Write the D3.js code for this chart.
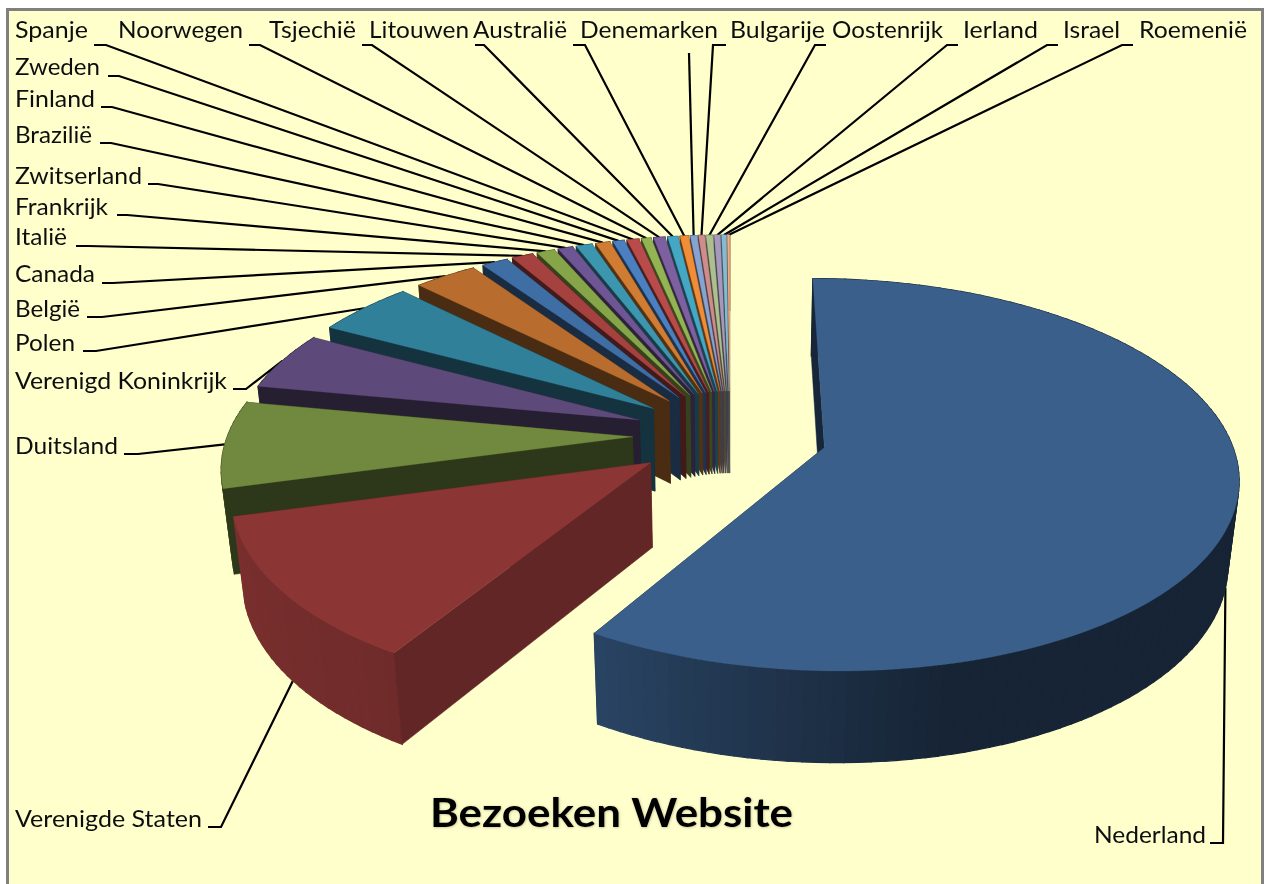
<!DOCTYPE html>
<html>
<head>
<meta charset="utf-8">
<script src="https://cdn.jsdelivr.net/npm/d3@7"></script>
<style>
  html, body { margin: 0; padding: 0; background: #fff; }
  text { font-family: Lato, "Open Sans", sans-serif; fill: #111; }
</style>
</head>
<body>
<svg id="chart" width="1265" height="884"></svg>
<script>
// data
const countries = ["Nederland", "Verenigde Staten", "Duitsland", "Verenigd Koninkrijk", "Polen", "België",
  "Canada", "Italië", "Frankrijk", "Zwitserland", "Brazilië", "Finland", "Zweden", "Spanje", "Noorwegen",
  "Tsjechië", "Litouwen", "Australië", "Denemarken", "Bulgarije", "Oostenrijk", "Ierland", "Israel", "Roemenië"];
const visits = [2110, 430, 260, 175, 165, 105, 44, 36, 30, 25, 27, 24, 19, 20, 16, 19, 17, 14, 11, 10, 11, 10, 8, 4];
const chartTitle = "Bezoeken Website";

const sliceColors = ["#3a5f8b", "#8b3635", "#71893f", "#5e4a7a", "#31809a", "#b86d2e",
  "#3f6ea5", "#a5423f", "#86a548", "#6e5593", "#3d96b0", "#d07c32",
  "#4a80c0", "#b94c4a", "#93b452", "#7c60a0", "#44a8c5", "#f18c37",
  "#87a3cf", "#cd8d8c", "#abc08e", "#a699bc", "#85bbd0", "#f4ae81"];

// label layout, same order as countries: text start, text end, baseline, stub start, stub end, stub y
const labelLayout = [
  [1094, 1206, 843, 1210, 1223, 843],
  [15, 202, 827, 208, 221, 827],
  [15, 118, 454, 124, 138, 454],
  [15, 227, 389, 233, 246, 389],
  [15, 75, 351, 83, 96, 351],
  [15, 80, 317, 87, 102, 317],
  [15, 95, 282, 102, 113, 283],
  [15, 67, 245, 76, 88, 246],
  [15, 108, 215, 117, 127, 215],
  [15, 142, 184, 148, 158, 184],
  [15, 92, 143, 100, 111, 143],
  [15, 95, 107, 101, 112, 107],
  [15, 100, 75, 108, 119, 76],
  [15, 88, 38, 94, 106, 45],
  [118, 243, 38, 249, 260, 45],
  [269, 356, 38, 362, 372, 45],
  [369, 469, 38, 475, 484, 45],
  [473, 567, 38, 573, 585, 45],
  [580, 718, 38, 689, 689, 53],
  [730, 825, 38, 726, 713, 45],
  [832, 943, 38, 826, 815, 45],
  [963, 1038, 38, 958, 947, 45],
  [1063, 1120, 38, 1058, 1047, 45],
  [1139, 1247, 38, 1133, 1122, 45]
];

// the perspective of the 3D pie
const cx = 730, cy = 435, kx = 405, ky = 188.9, persp = 0.138, depth = 85.5, depthPersp = 0.022;
const explode = 0.24;

function project(X, Y, Z) {
  const w = 1 - persp * Y + depthPersp * Z;
  return [cx + kx * X / w, cy + (ky * Y + depth * Z) / w];
}

const pie = d3.pie().sort(null);
const arcs = pie(visits);

const svg = d3.select("#chart");
const line = d3.line();

const defs = svg.append("defs");
defs.append("filter").attr("id", "soft").append("feGaussianBlur").attr("stdDeviation", 0.35);
const glow = defs.append("filter").attr("id", "titleShadow")
  .attr("x", "-5%").attr("y", "-20%").attr("width", "110%").attr("height", "140%");
glow.append("feDropShadow").attr("dx", 0.5).attr("dy", 0.5).attr("stdDeviation", 1)
  .attr("flood-color", "#4a4a30").attr("flood-opacity", 0.4);

svg.append("rect").attr("x", 7.5).attr("y", 9.5).attr("width", 1255).attr("height", 890)
  .attr("fill", "#ffffcc").attr("stroke", "#808080").attr("stroke-width", 3);

const leaders = svg.append("g").attr("filter", "url(#soft)");
const slices = svg.append("g");
const labels = svg.append("g").attr("filter", "url(#soft)");

function rimPoint(d, angle, Z) {
  const mid = (d.startAngle + d.endAngle) / 2;
  return project(explode * Math.sin(mid) + Math.sin(angle), -explode * Math.cos(mid) - Math.cos(angle), Z);
}
function apexPoint(d, Z) {
  const mid = (d.startAngle + d.endAngle) / 2;
  return project(explode * Math.sin(mid), -explode * Math.cos(mid), Z);
}
function arcAngles(d) {
  const n = Math.max(2, Math.ceil((d.endAngle - d.startAngle) / 0.03));
  return d3.range(n + 1).map(i => d.startAngle + (d.endAngle - d.startAngle) * i / n);
}
const nlShade = d3.scaleLinear().domain([0, 2.9, 3.68]).range([0.38, 0.38, 0.72]).clamp(true);
const vsShade = d3.scaleLinear().domain([3.68, 4.43]).range([0.8, 0.88]);

function outerShade(i, a) {
  if (i == 0) return nlShade(a);
  if (i == 1) return vsShade(a);
  return 0.5;
}
function darken(color, f) {
  const c = d3.rgb(color);
  return d3.rgb(c.r * f, c.g * f, c.b * f).formatHex();
}
function radialWall(g, d, a, fill) {
  g.append("path")
    .attr("d", line([apexPoint(d, 0), rimPoint(d, a, 0), rimPoint(d, a, 1), apexPoint(d, 1)]) + "Z")
    .attr("fill", fill).attr("stroke", fill).attr("stroke-width", 0.5);
}

function drawSlice(d, i) {
  const g = slices.append("g").attr("class", "slice");
  const color = sliceColors[i];
  const wall = darken(color, i == 1 ? 0.71 : 0.4);

  radialWall(g, d, d.endAngle, wall);

  const steps = arcAngles(d);
  for (let j = 0; j < steps.length - 1; j++) {
    const f = darken(color, outerShade(i, steps[j]));
    g.append("path")
      .attr("d", line([rimPoint(d, steps[j], 0), rimPoint(d, steps[j + 1], 0), rimPoint(d, steps[j + 1], 1), rimPoint(d, steps[j], 1)]) + "Z")
      .attr("fill", f).attr("stroke", f).attr("stroke-width", 1.2);
  }

  radialWall(g, d, d.startAngle, wall);

  const top = [apexPoint(d, 0)].concat(steps.map(a => rimPoint(d, a, 0)));
  g.append("path").attr("d", line(top) + "Z").attr("fill", color).attr("stroke", color).attr("stroke-width", 0.3);
}

// back to front: Nederland, then the small slices down to the big red one
drawSlice(arcs[0], 0);
for (let i = arcs.length - 1; i >= 1; i--) drawSlice(arcs[i], i);

// labels and leader lines
arcs.forEach((d, i) => {
  const l = labelLayout[i];
  const mid = (d.startAngle + d.endAngle) / 2;
  const anchor = rimPoint(d, mid, Math.cos(mid) < -0.2 ? 1 : 0);
  leaders.append("path")
    .attr("d", line([[l[3], l[5]], [l[4], l[5]], anchor]))
    .attr("fill", "none").attr("stroke", "#000").attr("stroke-width", 2.2);
  labels.append("text")
    .attr("x", l[0]).attr("y", l[2])
    .attr("font-size", 24)
    .attr("textLength", l[1] - l[0]).attr("lengthAdjust", "spacingAndGlyphs")
    .text(countries[i]);
});

svg.append("text")
  .attr("x", 430).attr("y", 827)
  .attr("font-size", 41).attr("font-weight", "bold")
  .attr("textLength", 363).attr("lengthAdjust", "spacingAndGlyphs")
  .attr("filter", "url(#titleShadow)")
  .style("fill", "#000")
  .text(chartTitle);
</script>
</body>
</html>
